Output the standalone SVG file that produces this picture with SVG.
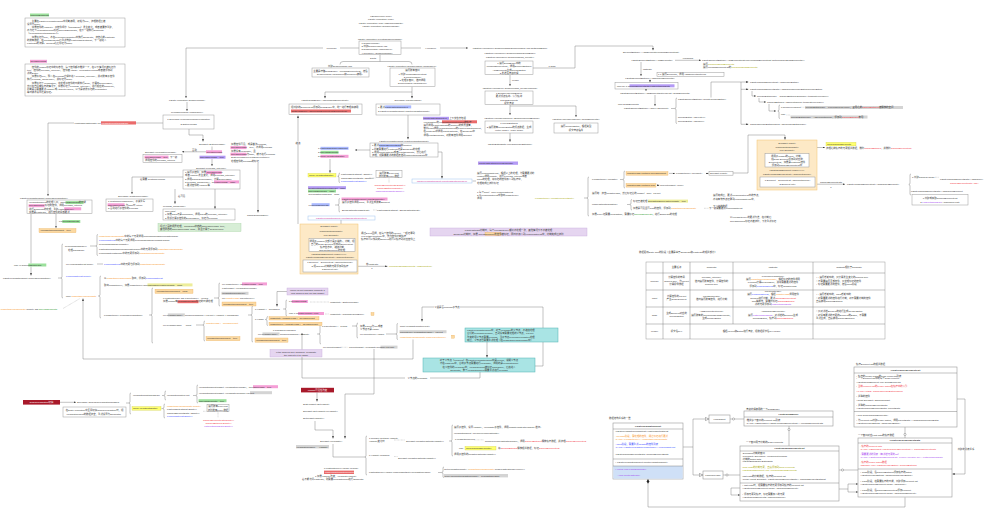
<svg xmlns="http://www.w3.org/2000/svg" width="1000" height="517" viewBox="0 0 1000 517">
<defs>
<style>
text{font-family:"Liberation Sans","Noto Sans CJK SC",sans-serif;font-size:2.4px;fill:#333}
.c{text-anchor:middle}
.h{font-weight:bold;text-anchor:middle}
.red{fill:#f2303a}.org{fill:#f7941d}.blu{fill:#3344ff}.pur{fill:#a33cf0}.yg{fill:#a8a800}.grn{fill:#2e9a2e}.pk{fill:#d0309a}.wt{fill:#fff}
.box{fill:#fff;stroke:#9a9a9a;stroke-width:0.5}
.ln{fill:none;stroke:#666;stroke-width:0.4}
.la{fill:none;stroke:#666;stroke-width:0.4;marker-end:url(#a)}
.dl{fill:none;stroke:#888;stroke-width:0.35;stroke-dasharray:0.8 0.6}
.hg{fill:#9be09b}.hp{fill:#f59fd6}.hr{fill:#ea6a6a}.hv{fill:#b49af5}.hb{fill:#a9b8ff}.hgr{fill:#d4d4d4}.hyg{fill:#eded9a}
.hy{fill:#ffff6e;stroke:#c8c83c;stroke-width:0.3}
.ho{fill:#fcd9a1;stroke:#e9a94f;stroke-width:0.3}
.bg{fill:#fff}
.ob{fill:#fde9c6;stroke:#f3c46f;stroke-width:0.5}
.cy{fill:#a9e4e4;stroke:#4fb3b3;stroke-width:0.5}
.pn{fill:#e5d5f0;stroke:#c6acdc;stroke-width:0.4}
.gn{fill:#d7eed6;stroke:#a6d2a3;stroke-width:0.4}
.dr{fill:#a8192a}
.lb{fill:#fff;stroke:#9ec3ee;stroke-width:0.5}
.cls{fill:#fff;stroke:#999;stroke-width:0.6}
</style>
<marker id="a" viewBox="0 0 4 3" refX="4" refY="1.5" markerWidth="2.4" markerHeight="1.8" markerUnits="userSpaceOnUse" orient="auto"><path d="M0,0L4,1.5L0,3z" fill="#333"/></marker>
<marker id="t" viewBox="0 0 6 6" refX="6" refY="3" markerWidth="3.6" markerHeight="3.6" markerUnits="userSpaceOnUse" orient="auto"><path d="M0,0.3L5.7,3L0,5.7z" fill="#fff" stroke="#555" stroke-width="0.7"/></marker>
</defs>
<rect width="1000" height="517" fill="#fff"/>

<g id="connectors">
<path class="la" d="M359,48H186V98"/>
<path class="la" d="M400,48H468"/>
<path class="ln" d="M380,54.5V61.5M340,64.5Q340,61.5 343,61.5H409Q412,61.5 412,64.5"/>
<path class="la" d="M412,86.5V92H325V98.3"/>
<path class="la" d="M412,92V98.3"/>
<path class="la" d="M298,224V115.5"/>
<path class="la" d="M408,115V139.3"/>
<path class="la" d="M370,150H355"/>
<path class="la" d="M330,159V172.8"/>
<path class="la" d="M438,152H442V178.5"/>
<path class="la" d="M533,68H575V46H653V50.3"/>
<path class="la" d="M510,74.5V86"/>
<path class="la" d="M510,104.5V115"/>
<path class="la" d="M510,106H576V117"/>
<path class="la" d="M510,133V141.8"/>
<path class="la" d="M675,60.3H701"/>
<path class="la" d="M641,62V76"/>
<path class="la" d="M650,79.5V82.3"/>
<path class="la" d="M646,89V91"/>
<path class="la" d="M655,95V106"/>
<path class="ln" d="M671,108.5H674.8M677,98Q676,98 676,99V107.7L674.8,108.5L676,109.3V122.5Q676,123.5 677,123.5"/>
<path class="la" d="M711,97.5V82H748.5"/>
<path class="la" d="M741,82V124.3H748.5"/>
<path class="la" d="M741,89.3H748.5"/>
<path class="la" d="M752,91V96H756"/>
<path class="la" d="M759,98V102H766"/>
<path class="la" d="M769,104V111H776"/>
<path class="ln" d="M780,105Q779,105 779,106V110.2L777.8,111L779,111.8V117.5Q779,118.5 780,118.5"/>
<path class="dl" d="M800,107.3H804.5M786.5,115H790.5"/>
<path class="la" d="M733,173H748V135H785V139.7"/>
<path class="ln" d="M808,141Q809,141 809,142V146.7L810.2,147.5L809,148.3V165Q809,166 808,166"/>
<path class="la" d="M810.2,147.5H825"/>
<path class="la" d="M817,184.2H845"/>
<path class="ln" d="M911,174Q910,174 910,175V183.7L908.8,184.5L910,185.3V194Q910,195 911,195"/>
<path class="dl" d="M935,177.3H939"/>
<path class="ln" d="M472.5,181H476"/>
<path class="ln" d="M584,198H586.8M589,177Q588,177 588,178V197.2L586.8,198L588,198.8V215Q588,216 589,216"/>
<path class="ln" d="M620,179.5H622.8M625,171Q624,171 624,172V178.7L622.8,179.5L624,180.3V187Q624,188 625,188"/>
<path class="la" d="M669,173.4H675"/>
<path class="la" d="M706,173.4H708.6"/>
<path class="la" d="M657,185.3H659.5"/>
<path class="ln" d="M627,204.5H629.8M632,199.5Q631,199.5 631,200.5V203.7L629.8,204.5L631,205.3V209Q631,210 632,210"/>
<path class="dl" d="M704,208.3H708.5"/>
<path class="la" d="M163,123H48V196"/>
<path class="la" d="M187,102V111"/>
<path class="la" d="M189,129V135H203V141.5"/>
<path class="ln" d="M212,146.5V150.3"/>
<path class="la" d="M207,151.8H182"/>
<path class="la" d="M212,159V166"/>
<path class="la" d="M183,177H132V194"/>
<path class="la" d="M175,189V203.8"/>
<path class="la" d="M215,189V208.8"/>
<path class="la" d="M258,163V212.5"/>
<path class="la" d="M56,213.5V228"/>
<path class="ln" d="M31,213.5V263.5"/>
<path class="la" d="M31,266.5V275.5"/>
<path class="ln" d="M58,278H60.8M63,244Q62,244 62,245V277.2L60.8,278L62,278.8V297Q62,298 63,298"/>
<path class="ln" d="M90,246H95.8M98,234.5Q97,234.5 97,235.5V245.2L95.8,246L97,246.8V254.5Q97,255.5 98,255.5"/>
<path class="ln" d="M97,264H103"/>
<path class="ln" d="M98,296H98.8M101,276Q100,276 100,277V295.2L98.8,296L100,296.8V317Q100,318 101,318"/>
<path class="ln" d="M149,315H150.8M153,288Q152,288 152,289V314.2L150.8,315L152,315.8V342Q152,343 153,343"/>
<path class="ln" d="M196,325H202.8M205,321Q204,321 204,322V324.2L202.8,325L204,325.8V340Q204,341 205,341"/>
<path class="ln" d="M214,298H217.8M220,283Q219,283 219,284V297.2L217.8,298L219,298.8V305Q219,306 220,306"/>
<path class="ln" d="M248,315H250.8M253,306Q252,306 252,307V314.2L250.8,315L252,315.8V341Q252,342 253,342"/>
<path class="ln" d="M283,309H284.8M287,300Q286,300 286,301V308.2L284.8,309L286,309.8V315Q286,316 287,316"/>
<path class="dl" d="M310,302H329M325,314H329"/>
<path class="ln" d="M265,319.5H265.8M268,316.5Q267,316.5 267,317.5V318.7L265.8,319.5L267,320.3V324.5Q267,325.5 268,325.5"/>
<path class="ln" d="M317,334H318.8M321,324Q320,324 320,325V333.2L318.8,334L320,334.8V343Q320,344 321,344"/>
<path class="ln" d="M352,326H355.8M358,323Q357,323 357,324V325.2L355.8,326L357,326.8V337Q357,338 358,338"/>
<path class="ln" d="M386,334H395.8M398,323.5Q397,323.5 397,324.5V333.2L395.8,334L397,334.8V338.5Q397,339.5 398,339.5"/>
<path class="la" d="M287,291.5H277V306.5"/>
<path class="la" d="M413,339.5V359H83V298.5"/>
<path class="la" d="M535,366H543V307H422V321.5"/>
<path class="la" d="M487,342V357.5"/>
<path class="la" d="M480,372V378H302V333"/>
<path class="dl" d="M63,308.5L80,298.5"/>
<path class="la" d="M60,402.3H76"/>
<path class="ln" d="M126,403H128.8M131,393Q130,393 130,394V402.2L128.8,403L130,403.8V413Q130,414 131,414"/>
<path class="ln" d="M162,395.5H163.8M166,391Q165,391 165,392V394.7L163.8,395.5L165,396.3V399Q165,400 166,400"/>
<path class="ln" d="M193,395.5H195.8M198,385Q197,385 197,386V394.7L195.8,395.5L197,396.3V402Q197,403 198,403"/>
<path class="ln" d="M161.5,408.5H162.8M165,404Q164,404 164,405V407.7L162.8,408.5L164,409.3V417Q164,418 165,418"/>
<path class="dl" d="M203,411.3H218V417.5"/>
<path class="ln" d="M338.5,176.3H337.8M340,173Q339,173 339,174V175.5L337.8,176.3L339,177.1V181.5Q339,182.5 340,182.5"/>
<path class="dl" d="M369,178H375.5M389,178.5V183"/>
<path class="ln" d="M335,205H337.8M340,198.5Q339,198.5 339,199.5V204.2L337.8,205L339,205.8V211Q339,212 340,212"/>
<path class="dl" d="M373,210H376.5"/>
<path class="ln" d="M341,220V224"/>
<path class="ln" d="M354,225Q355,225 355,226V236.2L356.2,237L355,237.8V250Q355,251 354,251"/>
<path class="la" d="M357,266.3H387.5"/>
<path class="dl" d="M341,347.3H348"/>
<path class="la" d="M317,392.5V401.5"/>
<path class="la" d="M315,421V430H333V438.5"/>
<path class="la" d="M374,349V394H345V438.5"/>
<path class="ln" d="M333,444V457H364.8"/>
<path class="ln" d="M367,436Q366,436 366,437V456.2L364.8,457L366,457.8V474Q366,475 367,475"/>
<path class="dl" d="M394,440H405"/>
<path class="ln" d="M449,441H450.8M453,425Q452,425 452,426V440.2L450.8,441L452,441.8V455Q452,456 453,456"/>
<path class="dl" d="M474,439.8H484"/>
<path class="dl" d="M394,456.5H397.5"/>
<path class="ln" d="M438,472.5H441.8M444,467Q443,467 443,468V471.7L441.8,472.5L443,473.3V476.5Q443,477.5 444,477.5"/>
<path class="ln" d="M648,484V507H905V497.3"/>
<path class="ln" d="M683,447H693M693,419V475"/>
<path class="ln" d="M693,419H709" marker-end="url(#t)"/>
<path class="ln" d="M693,475H703" marker-end="url(#t)"/>
<path class="ln" d="M730,419H744"/>
<path class="ln" d="M723,475H740"/>
<path class="ln" d="M789,426V446"/>
<path class="ln" d="M839,470H858"/>
<path class="la" d="M839,489H848V484H858"/>
<path class="la" d="M848,489V492H858"/>
<path class="la" d="M740,488H731V495H740"/>
<path class="ln" d="M905,427V438"/>
<path class="la" d="M957,399H965V474H952.3"/>
<circle cx="733.5" cy="419" r="1.1" fill="#fff" stroke="#666" stroke-width="0.4"/>
<circle cx="727" cy="475" r="1.1" fill="#fff" stroke="#666" stroke-width="0.4"/>
<circle cx="789" cy="429.5" r="1.1" fill="#fff" stroke="#666" stroke-width="0.4"/>
<circle cx="842.5" cy="470" r="1.1" fill="#fff" stroke="#666" stroke-width="0.4"/>
<circle cx="905" cy="434.5" r="1.1" fill="#fff" stroke="#666" stroke-width="0.4"/>
<path d="M648,478.8L649.3,481.4L648,484L646.7,481.4z" fill="#222"/>
<rect class="bg" x="323" y="46.8" width="17" height="3"/><text x="331.5" y="49" class="c">1.prepare</text>
<rect class="bg" x="421" y="46.8" width="19" height="3"/><text x="430.5" y="49" class="c">4.renderer</text>
<text x="373" y="58.6" class="c">2.with</text>
<text x="552" y="67.3" class="c">1.draw</text>
<text x="512" y="81.3">render</text>
<text x="688" y="59.3" class="c">uncached</text>
<text x="643" y="69.8">fastpath</text>
<text x="194.5" y="151.2" class="c">否则</text>
<text x="178" y="197.3">若可见</text>
<text x="140" y="180.3">若需要 CustomPrepass</text>
<rect class="bg" x="293" y="141.5" width="10" height="3"/><text x="298" y="143.7" class="c">继续</text>
<text x="372" y="264.6" class="c">非FastPath</text><text x="372" y="268.8" class="c">1</text>
<text x="831" y="182.6" class="c">CachedElementLists</text><text x="831" y="187.6" class="c">1</text>
<rect class="bg" x="434" y="305.5" width="26" height="3"/><text x="447" y="307.8" class="c">父级是否Process子节点</text>
<rect class="bg" x="405" y="376.8" width="25" height="3"/><text x="417.5" y="379.1" class="c">父节点的Invalidate</text>
<rect class="bg" x="957" y="447.3" width="18" height="3"/><text x="966" y="449.5" class="c">创建的列表关系</text>
</g>

<g id="note-slowpath">
<rect class="hg" x="30" y="13.5" width="19" height="3"/>
<text x="30.6" y="15.8">bNeedsSlowPath</text>
<rect class="box" x="25" y="18" width="100" height="29"/>
<text x="27" y="21.5">　　主要在FSlateInvalidationRoot中判断使用，初始为true，清理数据后被</text>
<text x="27" y="24.7">设置为false。</text>
<text x="27" y="27.9">　　如果控件的Visibility、子控件顺序（ChildOrder）发生变化，或者被要求重建，</text>
<text x="27" y="31.1">会为这个InvalidationRoot标记bNeedsSlowPath，在下一帧执行SlowPath</text>
<text x="27" y="34.3">（InvalidateRootChildOrder）。</text>
<text x="27" y="37.5">　　如果标记为true，会在ProcessInvalidation中执行SlowPath，清空之前FastPath</text>
<text x="27" y="40.7">的所有数据，在PaintSlowPath后重新构建FastWidgetPathList，下一帧进入</text>
<text x="27" y="43.9">FastPath的流程。Repaint之后标记为false。</text>
</g>

<g id="note-prepass">
<rect class="hp" x="30" y="59.8" width="17" height="3"/>
<text x="30.6" y="62.1">NeedsPrepass</text>
<rect class="box" x="25" y="64" width="100" height="32"/>
<text x="27" y="67.5">　　控件的Widget标记中的标志位，每个控件都会维护一个，在以下情况会被标记为</text>
<text x="27" y="70.7">true：控件的Prepass_Internal()，控件被Attach、InvalidatePrepass或者被添加到</text>
<text x="27" y="73.9">新的Slate。</text>
<text x="27" y="77.1">　　如果标记true，那么在Prepass过程中进入Prepass_Internal()，并对所有子控件</text>
<text x="27" y="80.3">执行Prepass_ChildLoop()，并标记为false。</text>
<text x="27" y="83.5">　　如果标记了Invalidation，在处理子控件的时候执行Slow，计算出DesiredSize，</text>
<text x="27" y="86.7">然后在已经有缓存的情况下，如果标记了Prepass_Internal()，进行相应的Compute，</text>
<text x="27" y="89.9">判断是否需要更新Visibility或AttributeValues，以下是触发标记的Invalidation</text>
<text x="27" y="93.1">等时候会设置这类标记。</text>
</g>

<g id="n-tick">
<text x="381" y="17" class="c">FEngineLoop::Tick()</text>
<text x="381" y="20.3" class="c">FSlateApplication::Tick()</text>
<text x="381" y="23.6" class="c">FSlateApplication::TickAndDrawWidgets()</text>
<text x="381" y="26.9" class="c">FSlateApplication::DrawWindows()</text>
</g>

<g id="n-privatedraw">
<text x="380" y="39.5" class="c">FSlateApplication::PrivateDrawWindows()</text>
<rect class="box" x="359" y="41" width="42" height="13.5"/>
<text x="361.5" y="44.2">1.DrawPrepass()</text>
<text x="361.5" y="47.3">2.创建DrawWindowArgs</text>
<text x="361.5" y="50.4">3.DrawWindowAndChildren()</text>
<text x="361.5" y="53.5">4.Renderer-&gt;DrawWindows()</text>
</g>

<g id="n-drawargs">
<text x="340" y="66.6" class="c">创建DrawWindowArgs</text>
<rect class="box" x="312" y="68" width="57" height="9"/>
<text x="340.5" y="71.5" class="c">主要是存储DrawBuffer、WindowElementList，传给</text>
<text x="340.5" y="75" class="c">DrawWindowAndChildren和Renderer使用。</text>
</g>

<g id="n-drawwindowandchildren">
<text x="412" y="66.6" class="c">FSlateApplication::DrawWindowAndChildren()</text>
<rect class="box" x="390" y="68" width="45" height="18.5"/>
<text x="412.5" y="71.2" class="c">遍历所有窗口</text>
<text x="412.5" y="74.5" class="c">1.创建WindowElementList</text>
<text x="412.5" y="77.8" class="c">2.PaintWindow()</text>
<text x="412.5" y="81.1" class="c">3.处理子窗口，递归调用</text>
<text x="412.5" y="84.4" class="c">DrawWindowAndChildren()</text>
</g>

<g id="n-addwindowelementlist">
<text x="325" y="100.8" class="c">FSlateDrawBuffer::AddWindowElementList()</text>
<rect class="box" x="289" y="104" width="73" height="10.5"/>
<text x="291" y="107.6">把创建的ElementList添加到DrawBuffer中，统一进行管理和使用</text>
<rect class="hr" x="291" y="109.5" width="60" height="3"/>
<text x="291.5" y="111.8">OutDrawBuffer.AddWindowElementList(ElementList)</text>
</g>

<g id="n-paintwindow">
<text x="408" y="100.8" class="c">SWindow::PaintWindow()</text>
<rect class="box" x="376" y="104" width="64" height="11"/>
<rect class="hb" x="385.2" y="105.4" width="26" height="3"/>
<text x="378" y="107.6">1.更新<tspan>PaintFastPathContext</tspan></text>
<text x="378" y="111.8">2.FSlateInvalidationRoot::PaintInvalidationRoot()</text>
</g>

<g id="n-paintctx-note">
<rect class="hv" x="423" y="116.8" width="26" height="3"/>
<text x="423.5" y="119">PaintFastPathContext，上下文信息包括</text>
<rect class="hr" x="442" y="120.3" width="35" height="3"/>
<text x="423.5" y="122.5">(Invalidation的)InvalidationRootWidget的缓存</text>
<text x="423.5" y="126">遍历调用PaintFastPath的Context的成员变量，</text>
<text x="423.5" y="129.2">窗口Paint调用InvalidationRoot的PaintInvalidationRoot，</text>
<text x="423.5" y="132.4">在FastPath中调用PaintFastPath，在SlowPath中</text>
<text x="423.5" y="135.6">调用PaintSlowPath，对所有控件调用OnPaint</text>
</g>

<g id="n-paintinvroot">
<text x="404" y="141.5" class="c">FSlateInvalidationRoot::PaintInvalidationRoot()</text>
<rect class="box" x="370" y="143" width="68" height="14"/>
<rect class="hb" x="379.2" y="144.2" width="22" height="3"/>
<text x="372" y="146.4">1.更新<tspan>CachedElementData</tspan>和Context</text>
<text x="372" y="149.5">2.判断需要进行FastPath还是SlowPath的处理</text>
<text x="372" y="152.6">3.调用PaintFastPath或者PaintSlowPath，然后进行</text>
<text x="372" y="155.7">清理，把需要更新的数据传递到ListsWithNewData中</text>
</g>

<g id="n-clear-cond">
<rect class="hb" x="320.5" y="146.8" width="28" height="3"/>
<text x="318" y="149">1.FastPathDataNeedsReset</text>
<rect class="hg" x="320.5" y="150.8" width="18" height="3"/>
<text x="318" y="153">2.bNeedsSlowPath</text>
<rect class="hp" x="320.5" y="154.8" width="28" height="3"/>
<text x="318" y="157">3.ClearAllFastPathData()</text>
</g>

<g id="n-renderer">
<text x="510" y="48.9" class="c">FSlateRHIRenderer::DrawWindows(DrawWindowArgs.OutDrawBuffer)</text>
<text x="510" y="53.5" class="c">FSlateRHIRenderer::DrawWindows(DrawBuffer)</text>
<text x="510" y="58" class="c">FSlateRHIRenderer::DrawWindows_Private()</text>
<rect class="box" x="485" y="61" width="48" height="13.5"/>
<text x="509" y="64.3" class="c">1.遍历DrawBuffer中的</text>
<text x="509" y="67.4" class="c">WindowElementList，调用ElementBatcher</text>
<text x="509" y="70.5" class="c">AddElements生成RenderBatch</text>
<text x="509" y="73.6" class="c">2.发送给渲染线程</text>
</g>

<g id="n-renderthread">
<text x="510" y="88.6" class="c">FSlateRHIRenderer::DrawWindow_RenderThread()</text>
<rect class="box" x="485" y="91" width="48" height="13.5"/>
<text x="509" y="94.3" class="c">1.BuildRenderingBuffers</text>
<text x="509" y="97.4" class="c">更新顶点缓冲、索引缓冲</text>
<text x="509" y="100.5" class="c">2.DrawElements</text>
<text x="509" y="103.6" class="c">提交渲染</text>
</g>

<g id="n-buildbuffers">
<text x="512" y="118.5" class="c">FSlateRHIRenderingPolicy::BuildRenderingBuffers()</text>
<rect class="box" x="485" y="121" width="48" height="12"/>
<text x="509" y="124.3" class="c">1.MergeBatches</text>
<text x="509" y="127.5" class="c">2.遍历所有RenderBatch的顶点数据，生成</text>
<text x="509" y="130.7" class="c">vertex buffer、index buffer</text>
<text x="510" y="144.6" class="c">FSlateBatchData::MergeRenderBatches()</text>
</g>

<g id="n-drawelements">
<text x="576" y="119.6" class="c">FSlateRHIRenderingPolicy::DrawElements()</text>
<rect class="box" x="554" y="123" width="44" height="10"/>
<text x="576" y="127" class="c">遍历RenderBatch，根据类型</text>
<text x="576" y="130.5" class="c">提交渲染指令</text>
</g>

<g id="n-purple-tag">
<rect class="hv" x="478" y="161.5" width="40" height="3.3"/>
<text x="479" y="163.9">PaintFastPath(bForceSlowPath)</text>
</g>

<g id="n-batcher">
<text x="651" y="52.8" class="c">ElementBatcher-&gt;AddElements(WindowElementList)</text>
<text x="652" y="60.9" class="c">FSlateElementBatcher::AddElements()</text>
<text x="702" y="61.1">FSlateElementBatcher::AddElementsInternal(WindowElementList.GetUncachedDrawElements())</text>
<text x="703" y="64.8">遍历<tspan class="yg">UncachedDrawElements</tspan></text>
<text x="703" y="68.3">遍历WindowElementList的<tspan class="yg">UncachedDrawElements</tspan></text>
<rect class="box" x="657" y="72.6" width="67" height="3.8"/>
<text x="658" y="75.2">1.1 遍历Elements，调用AddElementsInternal</text>
<text x="650" y="78.8" class="c">FSlateElementBatcher::AddCachedElements()</text>
<rect class="box" x="615" y="82.5" width="63" height="6.5"/>
<rect class="hv" x="629.5" y="84.3" width="45" height="3"/>
<text x="617" y="86.6">loop for 1.<tspan>CachedElementData.ListsWithNewData</tspan></text>
<text x="655" y="93.6" class="c">FSlateElementBatcher::AddElementsInternal(list-&gt;DrawElements)</text>
<text x="618" y="104.5">loop DrawElements</text>
<text x="624" y="108.8">FSlateElementBatcher::AddXXXElement()</text>
<text x="678" y="99.9">FSlateElementBatcher::CreateRenderBatch()</text>
<text x="678" y="117.8">RenderBatch.AddVertex()</text>
<text x="678" y="122.3">RenderBatch.AddIndex()</text>
</g>

<g id="n-cachedbatch">
<text x="750" y="82.9">FSlateCachedElementList::AddRenderBatch()</text>
<text x="750" y="89.9">FSlateCachedElementData::AddCachedRenderBatch(RenderBatch)</text>
<text x="757" y="96.9">RenderBatchIndex = CachedBatches.EmplaceAtLowestFreeIndex()</text>
<text x="767" y="102.9">CachedBatches.AddUninitializedAtLowestFreeIndex()</text>
<text x="781" y="107.9">if NumFreeIndices</text>
<rect class="hgr" x="805" y="106" width="98" height="3"/>
<text x="805.5" y="108.3">RenderBatchIndex = FreeIndexPool.Pop()，复用之前<tspan class="red">CachedBatches</tspan>被释放的空间</text>
<text x="781" y="115.4">else</text>
<rect class="hgr" x="790.5" y="115.5" width="77" height="3"/>
<text x="791" y="117.8">RenderBatchIndex = Add(Uninitialized)，添加到<tspan class="red">CachedBatches</tspan>末尾</text>
<text x="750" y="124.9">CachedRenderBatchIndices.Add(RenderBatchIndex)</text>
</g>

<g id="n-paint-fast">
<rect class="ob" x="757" y="140" width="60" height="50"/>
<text x="787" y="143.5" class="c">SWidget::Paint()</text>
<text x="787" y="147.5" class="c">PushPaintingWidget()</text>
<text x="787" y="151.3" class="c">??? OnPaint()</text>
<rect class="box" x="765" y="153.5" width="44" height="13.5"/>
<text x="787" y="156.6" class="c">调用子Widget的Paint，绘制，</text>
<text x="787" y="159.7" class="c">把Draw Element添加到对应的</text>
<text x="787" y="162.8" class="c">ElementList，如果是FastPath控件</text>
<text x="787" y="165.9" class="c">添加到CachedElementList中</text>
<text x="787" y="170.8" class="c">FSlateDrawElement::MakeXXX()</text>
<text x="787" y="174.5" class="c">FSlateWindowElementList::AddUninitialized()</text>
<rect class="box" x="760" y="177" width="55" height="10"/>
<text x="787.5" y="180.6" class="c">1.Element = ElementList.AddUninitialized()</text>
<text x="787.5" y="184.6" class="c">2.Element.Init()</text>
</g>

<g id="n-clearcached">
<rect class="hy" x="826" y="142.3" width="30" height="3.6"/>
<text x="827" y="144.9">ClearCachedElements</text>
<text x="826" y="148.6">清理之前缓存的元素相关数据，删除<tspan class="red">CachedBatches</tspan>，并删除<tspan class="red">CachedElementList</tspan></text>
</g>

<g id="n-addcachedelement">
<text x="847" y="185">FSlateWindowElementList::AddCachedElement()</text>
<text x="912" y="177.5">1.创建CachedHandle</text>
<text x="940" y="179.5">FSlateCachedElementData::AddCache()</text>
<text x="950" y="183.5" class="red">CachedElementLists.Add()</text>
<text x="911" y="191.8">FSlateCachedElementData::AddCachedElement</text>
<rect class="box" x="912" y="194.5" width="56" height="10.5"/>
<text x="940" y="198.5" class="c">1.创建或获取CachedElementList</text>
<text x="940" y="202.5" class="c">2.<tspan class="pur">ListsWithNewData</tspan>.AddUnique(List)</text>
</g>

<g id="n-left-clear">
<rect class="hy" x="308" y="173.4" width="28" height="3.6"/>
<text x="309" y="175.9">ClearAllFastPathData()</text>
<text x="341" y="175.3">FastWidgetPathList-&gt;Empty()</text>
<text x="341" y="178.5">CachedElementData-&gt;Empty()</text>
<text x="341" y="181.7" class="blu">FinalUpdateList.Empty()</text>
<rect class="box" x="376" y="170.5" width="26" height="7"/>
<text x="389" y="173.6" class="c">遍历所有ProxyList</text>
<text x="389" y="176.7" class="c">清除所有Proxy数据</text>
<text x="390" y="185.6" class="c red">CachedElementLists.Empty()</text>
<text x="390" y="188.7" class="c red">CachedBatches.Empty()</text>
<text x="390" y="191.8" class="c pur">ListsWithNewData.Empty()</text>
<rect class="hv" x="308" y="186.2" width="38" height="3"/>
<text x="308.5" y="188.5">bFastPathDataNeedsReset = false</text>
<rect class="hg" x="308" y="189.5" width="28" height="3"/>
<text x="308.5" y="191.8">bNeedsSlowPath = false</text>
<text x="308.5" y="195.2">bInvalidationChanged = false</text>
<rect class="hb" x="311.6" y="203.2" width="18" height="3"/>
<text x="308.5" y="205.5">if bNeedsSlowPath</text>
<rect class="hp" x="341.5" y="197.5" width="46" height="3"/>
<text x="342" y="199.8">FSlateInvalidationRoot::PaintSlowPath()</text>
<text x="342" y="203">遍历子控件调用Paint，重新生成所有Element</text>
<text x="342" y="210.6">BuildFastPathWidgetList()</text>
<text x="377" y="210.6">FastWidgetPathList-&gt;BuildFastPathList()</text>
<rect class="lb" x="308" y="216" width="67" height="4"/>
<text x="341.5" y="218.8" class="c pk">FSlateInvalidationRoot::PaintSlowPath(Context)</text>
</g>

<g id="n-paint-slow">
<rect class="ob" x="300" y="224" width="58" height="50"/>
<text x="329" y="227" class="c">SWidget::Paint()</text>
<text x="331" y="231.5" class="c">PushPaintingWidget()</text>
<text x="331" y="235.5" class="c">??? OnPaint()</text>
<rect class="box" x="309" y="238.5" width="46" height="13"/>
<text x="332" y="241.5" class="c">调用子Widget(大部分是子类的)，绘制，把</text>
<text x="332" y="244.5" class="c">自己的Draw Element添加到ElementList</text>
<text x="332" y="247.5" class="c">缓存信息中，继续绘制</text>
<text x="332" y="250.5" class="c">OnPaint(Element)的处理</text>
<text x="329" y="254.8" class="c">FSlateDrawElement::MakeXXX()</text>
<text x="330" y="258.3" class="c">FSlateWindowElementList::AddUninitialized()</text>
<rect class="box" x="303" y="260" width="54" height="12"/>
<text x="330" y="263.3" class="c">1.Element = ElementList.AddUninitialized()</text>
<text x="330" y="266.6" class="c">2.把OnPaint绘制的元素添加到缓存</text>
<text x="330" y="269.9" class="c">3.Element.Init()</text>
<text x="361" y="233.5">通过Event回调，在每个控件的Layout，一起记录到</text>
<text x="361" y="236.8">(LayoutElementList)中，作为控件绘制缓存</text>
<text x="361" y="240.1">缓存中可以找到的Element则可以缓存到对应控件上</text>
<text x="389" y="267" class="yg">UncachedDrawElements.AddDefaulted()</text>
</g>

<g id="n-paintfastpath">
<rect class="lb" x="412" y="179" width="60" height="4"/>
<text x="442" y="181.8" class="c pk">FSlateInvalidationRoot::PaintFastPath(Context)</text>
<text x="477" y="173.6">遍历FinalUpdateList，根据以上的处理，为需要更新的</text>
<text x="477" y="176.9">Widget调用Update，进行Prepass_Internal或者</text>
<text x="477" y="180.2">Paint的处理，将标记的控件加入到缓存中，</text>
<text x="477" y="183.5">处理完成后清除标记</text>
<text x="477" y="192.6">1.每个Root：loop FinalUpdateList</text>
<text x="477" y="196">2.从FinalUpdateList中取出WidgetProxy</text>
<text x="477" y="199.4">调用</text>
<text x="535" y="198.9" class="yg">FWidgetProxy::Update(bParentDirty)</text>
</g>

<g id="n-widgetproxy-update">
<text x="592" y="180.3">FWidgetProxy::Update()</text>
<rect class="ho" x="626" y="171.6" width="42" height="3.6"/>
<text x="627" y="174.2">UpdateFlags contains NeedsRepaint</text>
<text x="676" y="174.2">FWidgetProxy::Repaint()</text>
<rect class="box" x="709" y="171.6" width="24" height="3.6"/>
<text x="710" y="174.2">SWidget::Paint()</text>
<rect class="ho" x="626" y="183.5" width="30" height="3.6"/>
<text x="627" y="186.1">UpdateFlags contains Tick</text>
<text x="660" y="186.1">CurrentWidget-&gt;Tick()</text>
<text x="592" y="193.8">遍历完：清空UpdateFlags，然后标记它的Widget：Tick、Layout</text>
<text x="592" y="205.3">MarkFastPathUpdated()</text>
<rect class="hyg" x="648" y="199.6" width="40" height="3"/>
<text x="633" y="201.9">标记已被处理 bUpdatedSinceLastInvalidate = true</text>
<text x="633" y="208.9">如果是可见且可Tick的控件，添加到<tspan class="org">WidgetsNeedingUpdate</tspan></text>
<text x="709" y="208.9">下一帧需要更新FinalUpdateList</text>
<text x="592" y="215">如果Proxy还需要Invalidation，需要标记<tspan class="grn">bNeedsSlowPath</tspan>，进行SlowPath的处理</text>
<text x="713" y="196.4">遍历完成后，更新FinalUpdateList中的节点，</text>
<text x="713" y="199.7">会将有效节点记录到FinalUpdateList中，</text>
<text x="713" y="207.2">下一帧的数据</text>
<text x="730" y="218.4">以FWidgetProxy的更新为准，在绘制后</text>
<text x="730" y="221.7">NeedsRepaint标记会被清除，下次重新标记</text>
</g>

<g id="n-purple-note">
<rect class="pn" x="430" y="228" width="157" height="8"/>
<text x="508.5" y="231.3" class="c">PaintFastPath绘制时，每个FWidgetProxy都只会处理一次，其他情况下不会被处理</text>
<rect class="ho" x="485" y="232.4" width="16" height="3"/>
<text x="508.5" y="234.7" class="c">SlowPath绘制时，如果 NeedsRepaint 的控件被标记，同时会加入到FinalUpdateList中，绘制完成后清除</text>
</g>

<g id="n-table">
<text x="639" y="252.6">数据驱动Slate Tick的阶段（主要是基于SlowPath和FastPath的相关部分）</text>
<rect class="box" x="646" y="262" width="239" height="77"/>
<path class="ln" d="M663,262V339M690,262V339M733,262V324M813,262V339M646,273H885M646,290H885M646,307H885M646,324H885"/>
<text x="676.5" y="268.4" class="c">主要任务</text>
<text x="711.5" y="268.4" class="c">slowpath</text>
<text x="773" y="268.4" class="c">fastpath</text>
<text x="849" y="268.4" class="c">fastpath相比于slowpath</text>
<text x="654.5" y="282.3" class="c">prepare</text>
<text x="676.5" y="278.2" class="c">计算控件的布局</text>
<text x="676.5" y="281.5" class="c">desired size，为Layout</text>
<text x="676.5" y="284.8" class="c">计算提供依据</text>
<text x="711.5" y="278.2" class="c">Prepass_Internal()</text>
<text x="711.5" y="281.5" class="c">递归遍历所有控件，计算控件的</text>
<text x="711.5" y="284.8" class="c">desired size</text>
<text x="773" y="276.6" class="c">ProcessInvalidation()</text>
<text x="773" y="279.9" class="c">遍历<tspan class="org">WidgetsNeedingUpdate</tspan>，根据标记的控件调用</text>
<text x="773" y="283.2" class="c">Prepass计算DesiredSize，并将需要更新的控件</text>
<text x="773" y="286.5" class="c">添加到<tspan class="blu">FinalUpdateList</tspan>中，标记UpdateFlags</text>
<text x="816" y="278.2">++ 遍历受影响的，只计算发生变化的desired size</text>
<text x="816" y="281.5">○ 不需要遍历全部控件，只处理标记的控件</text>
<text x="816" y="284.8">+ 标记需要更新的控件，传给paint阶段</text>
<text x="654.5" y="299.3" class="c">paint</text>
<text x="676.5" y="297" class="c">计算控件的Layout</text>
<text x="676.5" y="300.3" class="c">产生Draw Element</text>
<text x="711.5" y="297" class="c">PaintSlowPath()</text>
<text x="711.5" y="300.3" class="c">递归遍历所有控件，进行绘制</text>
<text x="773" y="292.3" class="c">PaintFastPath()</text>
<text x="773" y="295.4" class="c">遍历<tspan class="blu">FinalUpdateList</tspan>，根据<tspan class="org">UpdateFlags</tspan>调用控件</text>
<text x="773" y="298.5" class="c">Repaint进行绘制，更新<tspan class="red">CachedElementList</tspan></text>
<text x="773" y="301.6" class="c">Tick等操作，需要时标记<tspan class="red">CachedBatches</tspan></text>
<text x="773" y="304.7" class="c">新的元素添加到<tspan class="pur">ListsWithNewData</tspan></text>
<text x="816" y="295.2">++ 遍历受影响的，paint受影响的</text>
<text x="816" y="298.5">○ 对需要更新的控件进行绘制，对不需要绘制的控件</text>
<text x="816" y="301.8">直接使用CachedBatches</text>
<text x="654.5" y="316.3" class="c">draw</text>
<text x="676.5" y="314" class="c">生成Element对应的</text>
<text x="676.5" y="317.3" class="c">RenderBatch</text>
<text x="711.5" y="312.2" class="c">AddElementsInternal()</text>
<text x="711.5" y="315.5" class="c">遍历所有的UncachedDrawElements，</text>
<text x="711.5" y="318.8" class="c">生成RenderBatch</text>
<text x="773" y="312.2" class="c">AddCachedElements()</text>
<text x="773" y="315.5" class="c">遍历<tspan class="pur">ListsWithNewData</tspan>，对新增的Element生成</text>
<text x="773" y="318.8" class="c">RenderBatch，缓存到<tspan class="red">CachedBatches</tspan></text>
<text x="816" y="312.2">○ 只对新增Element的进行生成RenderBatch</text>
<text x="816" y="315.5">○ 对没有更新的元素的Element的Batch，不需要</text>
<text x="816" y="318.8">重新生成，直接使用CachedBatches</text>
<text x="654.5" y="332.3" class="c">render</text>
<text x="676.5" y="332.3" class="c">提交给RHI</text>
<text x="751.5" y="332.3" class="c">根据Layout和Batch进行渲染，把数据提交给RHI buffer</text>
</g>

<g id="n-prepass-chain">
<text x="187" y="100.8" class="c">FSlateApplication::DrawPrepass()</text>
<text x="187" y="113.4" class="c">PrepassWindowAndChildren()</text>
<rect class="box" x="163" y="115" width="51" height="14"/>
<text x="188.5" y="120.2" class="c">1.SWindow::ProcessWindowInvalidation</text>
<text x="188.5" y="124.6" class="c">2.SlatePrepass</text>
<rect class="bg" x="74" y="121" width="62" height="3.6"/>
<text x="74.5" y="123.8">FirstPassFastUpdate init</text>
<rect class="hr" x="101" y="121.3" width="35" height="3.2"/>
<text x="101.5" y="123.8" class="wt">InvalidateRootChildOrder</text>
<text x="212" y="144.6" class="c">SWidget::SlatePrepass()</text>
<rect class="hp" x="206" y="150.3" width="16" height="3"/>
<text x="206.5" y="152.6">NeedsPrepass</text>
<rect class="hv" x="199.5" y="155.7" width="26" height="3"/>
<text x="200" y="158">bNeedsPrepass = true</text>
<text x="211" y="168.6" class="c">SWidget::Prepass_Internal()</text>
<text x="145" y="152.7">SWidget::InvalidatePrepass()</text>
<rect class="box" x="143" y="154.5" width="39" height="8"/>
<rect class="hp" x="144.5" y="155.6" width="24" height="3"/>
<text x="145" y="157.8">NeedsPrepass = true，下一帧</text>
<text x="145" y="161">调用控件的Prepass_Internal</text>
<text x="231" y="145">如果控件可见，或是首次Prepass，</text>
<rect class="hp" x="230.5" y="146.1" width="16" height="3"/>
<text x="231" y="148.3">NeedsPrepass = true，会调用Prepass</text>
<text x="231" y="151.6">如果没有Invalidate，且</text>
<rect class="hp" x="230.5" y="152.7" width="16" height="3"/>
<text x="231" y="154.9">NeedsPrepass为false，就不进行Prepass</text>
<text x="231" y="158.2">SlatePrepass(LayoutScaleMultiplier)</text>
<text x="231" y="161.5">处理控件的Prepass的标记</text>
</g>

<g id="n-prepass-internal">
<rect class="box" x="183" y="170" width="57" height="19"/>
<rect class="hp" x="205.7" y="171.1" width="16" height="3"/>
<text x="185" y="173.3">1.遍历子控件：如果 NeedsPrepass</text>
<text x="185" y="176.4">或者Visibility发生变化，调用Prepass_Internal()</text>
<text x="185" y="179.5">2.调用CacheDesiredSize，计算DesiredSize</text>
<rect class="hp" x="214" y="180.4" width="25" height="3"/>
<text x="185" y="182.6">3.Prepass_ChildLoop()，NeedsPrepass = false</text>
<text x="185" y="185.7">4.更新控件的Visibility等</text>
<text x="118" y="197.2">SWindow::CustomPrepass()</text>
<rect class="box" x="106" y="199" width="47" height="12.5"/>
<text x="108" y="202.2">1.CustomPrepass(bool)，子类重写</text>
<rect class="hp" x="107.6" y="203.3" width="17" height="3"/>
<text x="108" y="205.5">bNeedsPrepass 为false时 return</text>
<text x="108" y="208.8">2.否则进行子控件的Prepass</text>
<text x="163" y="206.5">Prepass_ChildLoop()</text>
<rect class="box" x="163" y="209" width="72" height="11"/>
<text x="165" y="212.3">loop child：</text>
<text x="165" y="215.4">1.如果Child不是Collapsed，调用Child的Prepass_Internal()</text>
<text x="165" y="218.5">2.累积计算子控件的DesiredSize，标记为Prepass</text>
<text x="247" y="216.4">CacheDesiredSize()</text>
<rect class="gn" x="158" y="223.5" width="83" height="8"/>
<text x="160" y="226.7">经过上面的逐层处理，Collapsed状态的bNeedsPrepass=true，</text>
<text x="160" y="229.9">其他状态的bNeedsPrepass=false，并且计算了desired size。</text>
</g>

<g id="n-processinvalidation">
<text x="20" y="198.6">FSlateInvalidationRoot::ProcessInvalidation()</text>
<rect class="box" x="27" y="200" width="65" height="13.5"/>
<rect class="hg" x="65.5" y="201.1" width="18" height="3"/>
<text x="29" y="203.3">InvalidationRoot的处理入口，bNeedsSlowPath的时候</text>
<rect class="hp" x="28.6" y="204.2" width="16" height="3"/>
<text x="29" y="206.4">NeedsRepaint 标记的控件，调用Prepass_Internal</text>
<rect class="hp" x="64.2" y="207.3" width="17" height="3"/>
<text x="29" y="209.5">进行SlowPath的处理，重建FastPathProxy</text>
<text x="29" y="212.6">如果是FastPath，进行控件的局部更新</text>
<rect class="hg" x="62.3" y="220" width="18" height="3"/>
<text x="59" y="222.3">if bNeedsSlowPath</text>
<rect class="ho" x="39" y="228.5" width="37" height="4.2"/>
<text x="40.5" y="231.4">InWidgetNeedRepaint = true</text>
<rect class="hg" x="28.3" y="263.5" width="18" height="3"/>
<text x="14" y="265.8">else (if !bNeedsSlowPath)</text>
<text x="3" y="278.6">FSlateInvalidationRoot::ProcessInvalidation()</text>
<text x="65" y="246.6">ProcessChildOrder()</text>
<text x="68" y="250.8" fill="#777">处理ChildOrder</text>
<text x="99" y="236.6"><tspan class="org">WidgetsNeedingUpdate</tspan>中的每个元素调用ProcessChildOrderUpdateCache</text>
<text x="99" y="241"><tspan class="blu">FinalUpdateList</tspan>中的每个元素调用ProcessChildOrderUpdateCache</text>
<text x="99" y="245.4">ProcessChildOrderUpdate()</text>
<text x="99" y="249.8">FastPathWidgetsNeedingUpdateCache中的元素添加到<tspan class="org">WidgetsNeedingUpdate</tspan></text>
<text x="99" y="254.2">FinalUpdateListCache中的元素添加到<tspan class="org">WidgetsNeedingUpdate</tspan></text>
<text x="66" y="264.6">ref FinalUpdateList Num()</text>
<text x="104" y="264.6"><tspan class="blu">FinalUpdateList</tspan>中的元素也添加到<tspan class="org">WidgetsNeedingUpdate</tspan></text>
<text x="66" y="276.6" class="blu">FinalUpdateList.Reset()</text>
<text x="66" y="296.6">loop <tspan class="org">WidgetsNeedingUpdate</tspan></text>
<text x="104" y="278.6">从<tspan class="org">WidgetsNeedingUpdate</tspan>取出，添加到<tspan class="blu">FinalUpdateList</tspan></text>
<rect class="hyg" x="147.5" y="283.4" width="45" height="3"/>
<text x="104" y="285.6">取出WidgetProxy，如果WidgetProxy.bUpdatedSinceLastInvalidate = false</text>
<text x="104" y="315.6">FWidgetProxy::ProcessInvalidation()</text>
<rect class="ho" x="155" y="289.2" width="38" height="4.2"/>
<text x="156.5" y="292.1">InWidgetNeedRepaint = false</text>
<text x="163" y="298.6">if FastPathIndex &amp;&amp; ParentIndex != Invalid</text>
<rect class="hr" x="177.5" y="300.2" width="21" height="3"/>
<text x="163" y="302.4">如果Widget有InvalidateReason标记的时候处理</text>
<rect class="hgr" x="167.8" y="313.4" width="17" height="3"/>
<text x="163" y="315.6">ref InvalidReason |= RenderTransform || Layout || Visibility || ChildOrder</text>
<text x="163" y="325.6">ref InvalidReason == Paint</text>
<text x="206" y="323.6" class="org">UpdateFlags |= NeedsRepaint</text>
<rect class="ho" x="206" y="336.5" width="34" height="4.2"/>
<text x="207" y="339.4">InWidgetNeedRepaint = true</text>
<rect class="hp" x="242" y="282.4" width="25" height="3"/>
<text x="222" y="284.6">ref WidgetProxy: NeedsPrepass = true</text>
<text x="222" y="289">FastWidget-&gt;InvalidatePrepass()</text>
<rect class="hgr" x="221.5" y="291.8" width="27" height="3"/>
<text x="222" y="294">InvalidateParentProxy</text>
<text x="222" y="299">ref <tspan class="org">UpdateFlags</tspan> ParentProxy()</text>
<rect class="ho" x="222" y="302" width="34" height="4"/>
<text x="223" y="304.8">InWidgetNeedRepaint = true</text>
<rect class="hgr" x="0.5" y="307.3" width="0.1" height="0.1"/>
<text x="0.5" y="309.8"><tspan class="org">WidgetsNeedingUpdate</tspan>.Reset() &amp;&amp; <tspan class="grn">bNeedsSlowPath</tspan></text>
</g>

<g id="n-visibility-branch">
<rect class="pn" x="287" y="288" width="41" height="7"/>
<text x="307.5" y="291.1" class="c">When layout changes compute a</text>
<text x="307.5" y="294.1" class="c">new desired size for this widget</text>
<text x="255" y="309.8">if Visibility != Collapsed</text>
<rect class="hp" x="291.8" y="300" width="16" height="3"/>
<text x="289" y="302.3">if NeedsPrepass</text>
<rect class="hp" x="298" y="312" width="26" height="3"/>
<text x="289" y="314.3">else if NeedsPrepass || Tick</text>
<text x="330" y="302.8">WidgetPtr-&gt;SlatePrepass()</text>
<text x="330" y="314.8">WidgetPtr-&gt;CacheDesiredSize()</text>
<rect class="ho" x="371" y="312.5" width="3" height="3"/>
<text x="255" y="319.8">if Visible</text>
<rect class="ho" x="269" y="316.6" width="50" height="3.4"/>
<text x="270" y="319.1">WidgetPtr-&gt;UpdateFlags |= NeedsRepaint</text>
<rect class="ho" x="269" y="322.2" width="53" height="3.4"/>
<text x="270" y="324.7">WidgetProxy-&gt;UpdateFlags |= NeedsRepaint</text>
<text x="273" y="331.3">if Transform changed</text>
<rect class="hgr" x="262.5" y="332.4" width="17" height="3"/>
<text x="258" y="334.6">ref InvalidReason |= RenderTransform | Visibility</text>
<rect class="ho" x="255" y="338" width="33" height="4.2"/>
<text x="256" y="340.9">InWidgetNeedRepaint = true</text>
<text x="322" y="326.6">if ParentIndex != Invalid</text>
<text x="360" y="326.6">如果Parent为null或者</text>
<text x="360" y="330">父节点不是Visible</text>
<text x="360" y="334.6">ref ParentProxy Visible</text>
<text x="400" y="326.6">Root.InvalidateRootLayout()</text>
<rect class="hgr" x="399.5" y="330.2" width="47" height="3"/>
<text x="400" y="332.5">ParentProxy.InvalidateReason |= Layout</text>
<text x="400" y="337.6" class="org">WidgetsNeedingUpdate.Push(ParentProxy)</text>
<rect class="ho" x="451.5" y="335.2" width="3" height="3"/>
</g>

<g id="n-cyan1">
<rect class="cy" x="465" y="328" width="93" height="14"/>
<text x="467" y="331.3">FSlateInvalidationRoot中，对于Invalidate的父节点，会继续处理</text>
<text x="467" y="334.4">它们的InvalidateReason，直到没有需要处理的父节点，Layout</text>
<text x="467" y="337.5">改变的话父节点需要Prepass，当子节点ProcessInvalidation处理</text>
<text x="467" y="340.6">完后，父节点也需要重新处理（在WidgetsNeedingUpdate中）</text>
</g>

<g id="n-cyan2">
<rect class="cy" x="423" y="358" width="112" height="14"/>
<text x="479" y="361.3" class="c">对于父节点（InParent）在FSlateInvalidationRoot中是Invalid，说明父节点</text>
<text x="479" y="364.4" class="c">不在FastPath中，它的子节点需要进行Invalidate，调用的是InvalidateRoot</text>
<text x="479" y="367.5" class="c">在父控件的Invalidate中，InvalidateRoot被标记ChildOrder，后续进入</text>
<text x="479" y="370.6" class="c">SlowPath，整个InvalidationRoot需要重新进行Prepass</text>
</g>

<g id="n-parent-invalidate">
<rect class="pn" x="270" y="349.5" width="52" height="7.5"/>
<text x="296" y="352.7" class="c">If the desired size changed, invalidate</text>
<text x="296" y="355.8" class="c">the parent if it is visible</text>
<text x="323" y="347.8">ref ParentWidget</text>
<rect class="hgr" x="380.5" y="345.6" width="17" height="3"/>
<text x="349" y="347.8">ParentWidget-&gt;Invalidate(Reason::Layout)</text>
</g>

<g id="n-global-toggle">
<rect class="dr" x="23" y="400" width="37" height="4.6"/>
<text x="41.5" y="403.1" class="c wt">GlobalInvalidation切换</text>
<text x="77" y="403.1">SWindow::OnGlobalInvalidationToggled</text>
<rect class="box" x="63" y="407" width="63" height="10"/>
<text x="94.5" y="410.8" class="c">在SlateApplication中全局切换GlobalInvalidation时，把</text>
<text x="94.5" y="414.5" class="c">InvalidationRoot的数据清空，重新设置为SlowPath。</text>
<text x="133" y="396.1">InvalidateRootChildOrder</text>
<text x="167" y="396.1">InvalidateRootLayout</text>
<rect class="hp" x="253" y="385.2" width="25" height="3"/>
<text x="199" y="387.5">InvalidationRootWidget-&gt;InvalidatePrepass()，NeedsPrepass = true</text>
<rect class="hgr" x="250" y="391.2" width="22" height="3"/>
<text x="199" y="393.5">InvalidationRootWidget-&gt;Invalidate(Reason::Layout)</text>
<rect class="hg" x="198.5" y="399.2" width="28" height="3"/>
<text x="199" y="401.5">bNeedsSlowPath = true</text>
<rect class="hy" x="132" y="406.6" width="29" height="3.6"/>
<text x="133" y="409.2">ClearAllFastPathData()</text>
<text x="167" y="406.8" class="org">WidgetsNeedingUpdate.Reset()</text>
<text x="167" y="410.2">FastWidgetPathList.Empty()</text>
<text x="167" y="413.6">CachedElementData-&gt;Empty()</text>
<text x="167" y="417" class="blu">FinalUpdateList.Empty()</text>
<rect class="box" x="207" y="404.3" width="22" height="7"/>
<text x="218" y="407.4" class="c">遍历所有ProxyList</text>
<text x="218" y="410.5" class="c">清除所有Proxy数据</text>
<text x="218.5" y="420.8" class="c red">CachedElementLists.Empty()</text>
<text x="218.5" y="423.8" class="c red">CachedBatches.Empty()</text>
<text x="218.5" y="426.8" class="c pur">ListsWithNewData.Empty()</text>
</g>

<g id="n-setvisibility">
<rect class="dr" x="301" y="387.8" width="33" height="4.6"/>
<text x="317.5" y="390.9" class="c wt">Widget可见性改变</text>
<text x="303" y="405.3">SlateWidget::SetVisibility</text>
<text x="303" y="412.3">SWidget::SetVisibility(InVisibility)</text>
<text x="303" y="419.3">SetWidgetVisibility()</text>
<text x="320" y="441.6">SWidget::Invalidate()</text>
<rect class="hgr" x="296" y="445" width="33" height="3.4"/>
<text x="296.5" y="447.5">InvalidateReason == Visibility</text>
<text x="324" y="468.6">if FastPathProxyHandle.IsValid()</text>
<rect class="hr" x="324" y="470.6" width="30" height="3.4"/>
<text x="325" y="473.1" class="wt">MarkWidgetUpdateNeeded</text>
<text x="315" y="476.6" fill="#777">1.如果Visibility改变，InvalidateVisibility</text>
<text x="302" y="479.8" fill="#777">若不能访问FastPath，则需要InvalidateRoot进行SlowPath</text>
</g>

<g id="n-invalidate-tree">
<text x="369" y="438.6">1.Reason contains Visibility</text>
<text x="369" y="442">Visibility变化时</text>
<text x="406" y="441.6">SWidget::UpdateFastPathVisibility()</text>
<text x="454" y="427.6">遍历子控件，设置Visibility，Invalidate子控件，调用UpdateFastPathVisibility(递归)</text>
<text x="454" y="433.6">InvalidationRoot-&gt;RemoveFromFastPath()</text>
<text x="455" y="440.2">if WidgetRemoved</text>
<text x="485" y="441.6">RemoveFromFastPath(Cache)，调用<tspan class="red">CachedBatches</tspan>释放缓存数据，并清理<tspan class="red">CachedElementList</tspan></text>
<text x="459" y="448.6">else</text>
<rect class="hy" x="465" y="446.4" width="31" height="3.6"/>
<text x="466" y="449">ClearCachedElements()</text>
<text x="498" y="449">将<tspan class="red">CachedBatches</tspan>释放相关数据，标记<tspan class="red">CachedElementList</tspan></text>
<text x="454" y="454.6">调用子控件的UpdateFastPathVisibility()</text>
<text x="369" y="455.6">if Visibility changed</text>
<text x="398" y="458.6">SWidget::UpdateFastPathVisibility()</text>
<text x="369" y="473">FastPathProxyHandle.MarkWidgetDirty(InvalidateReason)</text>
<text x="444" y="469.8">GetInvalidationRoot()-&gt;<tspan class="org">WidgetsNeedingUpdate</tspan>.Push(FastPathIndex(Proxy))</text>
<rect class="hgr" x="444" y="474" width="64" height="3.4"/>
<text x="444.5" y="476.5">Proxy.CurrentInvalidateReason |= InvalidateReason</text>
</g>

<g id="c-invalidationroot">
<text x="609" y="418.6">数据结构关系的一些</text>
<rect class="cls" x="613" y="423" width="70" height="56"/>
<rect x="613.3" y="466" width="69.4" height="12.7" fill="#cfe0f7"/>
<path class="ln" d="M613,429H683M613,459H683M613,466H683"/>
<text x="648" y="427.1" class="h">FSlateInvalidationRoot</text>
<text x="615" y="431.8">-FSlateInvalidationWidgetList* FastWidgetPathList</text>
<text x="615" y="437" class="org">- prepass阶段，需处理的控件，通过标记进行更新</text>
<text x="615" y="440" class="org">-TArray&lt;FWidgetProxy*&gt; WidgetsNeedingUpdate</text>
<text x="615" y="445" class="blu">- paint阶段，需要重新Update的控件列表</text>
<text x="615" y="448" class="blu">-TArray&lt;FSlateInvalidationWidgetIndex&gt; FinalUpdateList</text>
<text x="615" y="454.6">-FSlateCachedElementData* CachedElementData</text>
<text x="615" y="462.8">+ FSlateInvalidationResult PaintInvalidationRoot()</text>
<text x="615" y="469.6" class="pur"># virtual void PaintSlowPath()</text>
<text x="617" y="475.8" class="pur">- void PaintFastPath()</text>
</g>

<g id="c-gcobject">
<rect class="cls" x="709" y="415" width="21" height="8"/>
<text x="719.5" y="419.8" class="c">FGCObject</text>
</g>
<g id="c-noncopyable">
<rect class="cls" x="703" y="471" width="20" height="8"/>
<text x="713" y="475.8" class="c">FNoncopyable</text>
</g>

<g id="c-drawbuffer">
<text x="746" y="409.6">渲染线程使用的一个DrawBuffer</text>
<rect class="cls" x="744" y="411" width="89" height="15"/>
<path class="ln" d="M744,417H833"/>
<text x="788.5" y="415.2" class="h">FSlateDrawBuffer</text>
<text x="746" y="420.6">-维护多个窗口的element list列表</text>
<text x="746" y="423.7">-TArray&lt;TSharedRef&lt;FSlateWindowElementList&gt;&gt; WindowElementLists</text>
</g>

<g id="c-windowelementlist">
<text x="746" y="443.2">一个窗口用于绘制的draw elements</text>
<rect class="cls" x="740" y="446" width="99" height="55"/>
<path class="ln" d="M740,451H839M740,483H839"/>
<text x="789.5" y="449.2" class="h">FSlateWindowElementList</text>
<text x="742" y="453.7">-SWindow绘制的窗口</text>
<text x="742" y="456.6">-TWeakPtr&lt;SWindow&gt; WeakPaintWindow</text>
<text x="742" y="459.6">-绘制的batch data</text>
<text x="742" y="462.4">-FSlateBatchData BatchData</text>
<text x="742" y="468.2" class="yg">-slow path的绘制元素，直接添加到draw elements</text>
<text x="742" y="471.1" class="yg">-FSlateDrawElementArray UncachedDrawElements</text>
<text x="742" y="477.2">-fast path的绘制数据，缓存的element list</text>
<text x="742" y="480.2">-TMap&lt;const SWidget*, FSlateCachedElementData*&gt; CachedElementDataList</text>
<text x="742" y="486.4">+ fast path时，把需要缓存的元素添加到缓存的element list</text>
<text x="742" y="489.4">+FSlateCachedElementHandle AddCachedElement()</text>
<text x="742" y="495.2">+ 添加元素到缓存，标记需要加入的元素</text>
<text x="742" y="498.2">+FSlateDrawElement&amp; AddUninitialized()</text>
</g>

<g id="c-cachedelementdata">
<text x="858" y="436.2">一个窗口对应Fast path的缓存数据</text>
<rect class="cls" x="858" y="438" width="94" height="59"/>
<path class="ln" d="M858,443H952M858,469H952"/>
<text x="905" y="441.2" class="h">FSlateCachedElementData</text>
<text x="860" y="447.2" class="red">- 缓存的element lists</text>
<text x="860" y="450.2" class="red">-TArray&lt;TSharedPtr&lt;FSlateCachedElementList&gt;&gt; CachedElementLists</text>
<text x="860" y="455.2" class="pur">- 需要更新的列表（有新增元素的list）</text>
<text x="860" y="458.2" class="pur">-TArray&lt;FSlateCachedElementList*, TInlineAllocator&lt;50&gt;&gt; ListsWithNewData</text>
<text x="860" y="463.2" class="red">- 缓存的render batch数据</text>
<text x="860" y="466.2" class="red">-TSparseArray&lt;FSlateRenderBatch&gt; CachedBatches</text>
<text x="860" y="472.6">+ draw阶段，给CachedBatches添加缓存的batch</text>
<text x="860" y="475.6">+FSlateRenderBatch&amp; AddCachedRenderBatch()</text>
<text x="860" y="481.6">+ paint阶段，在需要缓存的时候，创建添加element list</text>
<text x="860" y="484.6">+FSlateCachedElementHandle AddCache()</text>
<text x="860" y="490.6">+ paint阶段，给CachedElementList添加element</text>
<text x="860" y="493.6">+FSlateCachedElementHandle AddCachedElement()</text>
</g>

<g id="c-cachedelementlist">
<text x="856" y="365.2">缓存Element list的相关数据</text>
<rect class="cls" x="854" y="367" width="103" height="60"/>
<path class="ln" d="M854,373H957M854,411.5H957"/>
<text x="905.5" y="370.8" class="h">FSlateCachedElementList</text>
<text x="856" y="376.6">+ 缓存的render batch的draw elements列表</text>
<text x="856" y="379.2">+ 一个Element list中的每个draw element</text>
<text x="856" y="382.6">+FSlateDrawElementArray DrawElements</text>
<text x="856" y="387.2" class="red">+ 当前element list的render batch在缓存中的索引</text>
<text x="856" y="391.6" class="red">+TArray&lt;int32&gt; CachedRenderBatchIndices</text>
<text x="856" y="397.2">+ 关联的控件</text>
<text x="856" y="400.6">+const SWidget* OwningWidget</text>
<text x="856" y="405.6">+ 关联的CachedElementData</text>
<text x="856" y="409">+FSlateCachedElementData* ParentData</text>
<text x="856" y="415.6">+void ClearCachedElements()</text>
<text x="856" y="420.6">+ 为element list创建render batch，调用ParentData-&gt;AddCachedRenderBatch</text>
<text x="856" y="423.8">+FSlateRenderBatch&amp; AddRenderBatch()</text>
</g>
</svg>
